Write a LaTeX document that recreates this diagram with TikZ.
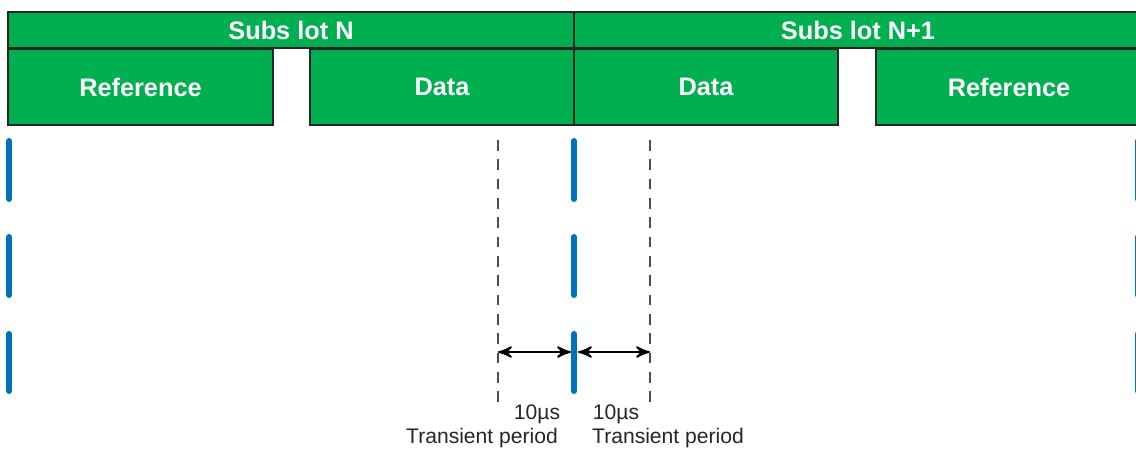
\documentclass[tikz,border=0pt]{standalone}
\usepackage{fontspec}
\setmainfont{Liberation Sans}
\usepackage{tikz}
\usetikzlibrary{arrows}
\definecolor{slotgreen}{RGB}{0,176,80}
\definecolor{pilotblue}{RGB}{0,112,192}
\tikzstyle{slot} = [
  draw=black!85,
  line width=0.6pt,
  fill=slotgreen,
  rectangle,
  inner sep=0pt,
  text=white,
  font=\fontsize{7.2}{9}\selectfont\bfseries,
]
\tikzstyle{header} = [
  slot,
  minimum height=0.36cm,
]
\tikzstyle{field} = [
  slot,
  minimum height=0.76cm,
]
\tikzstyle{pilot} = [
  draw=pilotblue,
  line width=1.7pt,
  line cap=round,
]
\tikzstyle{guide} = [
  draw=black!70,
  line width=0.4pt,
  dash pattern=on 3pt off 2.5pt,
]
\tikzstyle{span} = [
  <->,
  >=stealth',
  line width=0.5pt,
]
\tikzstyle{caption} = [
  inner sep=0pt,
  text=black!85,
  font=\fontsize{6}{7}\selectfont,
]

\begin{document}
\begin{tikzpicture}[
    x=0.01cm,
    y=-0.01cm,
  ]
  \useasboundingbox (0,0) rectangle (1136,450);
  % subslot headers
  \node[
    header,
    minimum width=5.66cm,
  ] (subN) at (291,30) {Subs lot N};
  \node[
    header,
    minimum width=5.68cm,
  ] (subNext) at (858,30) {Subs lot N+1};
  % fields
  \node[
    field,
    minimum width=2.65cm,
  ] (refA) at (140.5,87) {Reference};
  \node[
    field,
    minimum width=2.64cm,
  ] (dataA) at (442,87) {Data};
  \node[
    field,
    minimum width=2.64cm,
  ] (dataB) at (706,87) {Data};
  \node[
    field,
    minimum width=2.66cm,
  ] (refB) at (1009,87) {Reference};
  % transient limits
  \coordinate (guideLtop) at (498,140);
  \coordinate (guideLbot) at (498,405);
  \coordinate (guideRtop) at (650,140);
  \coordinate (guideRbot) at (650,405);
  \path[guide] (guideLtop) -- (guideLbot);
  \path[guide] (guideRtop) -- (guideRbot);
  \coordinate (spanL) at (498,352);
  \coordinate (spanML) at (571,352);
  \coordinate (spanMR) at (578,352);
  \coordinate (spanR) at (650,352);
  \draw[span] (spanL) -- (spanML);
  \draw[span] (spanMR) -- (spanR);
  % pilot symbols
  \path[pilot] (9,141) -- (9,199);
  \path[pilot] (9,237) -- (9,295);
  \path[pilot] (9,334) -- (9,391);
  \path[pilot] (574,141) -- (574,199);
  \path[pilot] (574,237) -- (574,295);
  \path[pilot] (574,334) -- (574,391);
  \path[pilot] (1138,141) -- (1138,199);
  \path[pilot] (1138,237) -- (1138,295);
  \path[pilot] (1138,334) -- (1138,391);
  % labels
  \node[caption] (usL) at (537,414) {10µs};
  \node[caption] (usR) at (616,414) {10µs};
  \node[caption] (tpL) at (482,438) {Transient period};
  \node[caption] (tpR) at (668,438) {Transient period};
\end{tikzpicture}
\end{document}
